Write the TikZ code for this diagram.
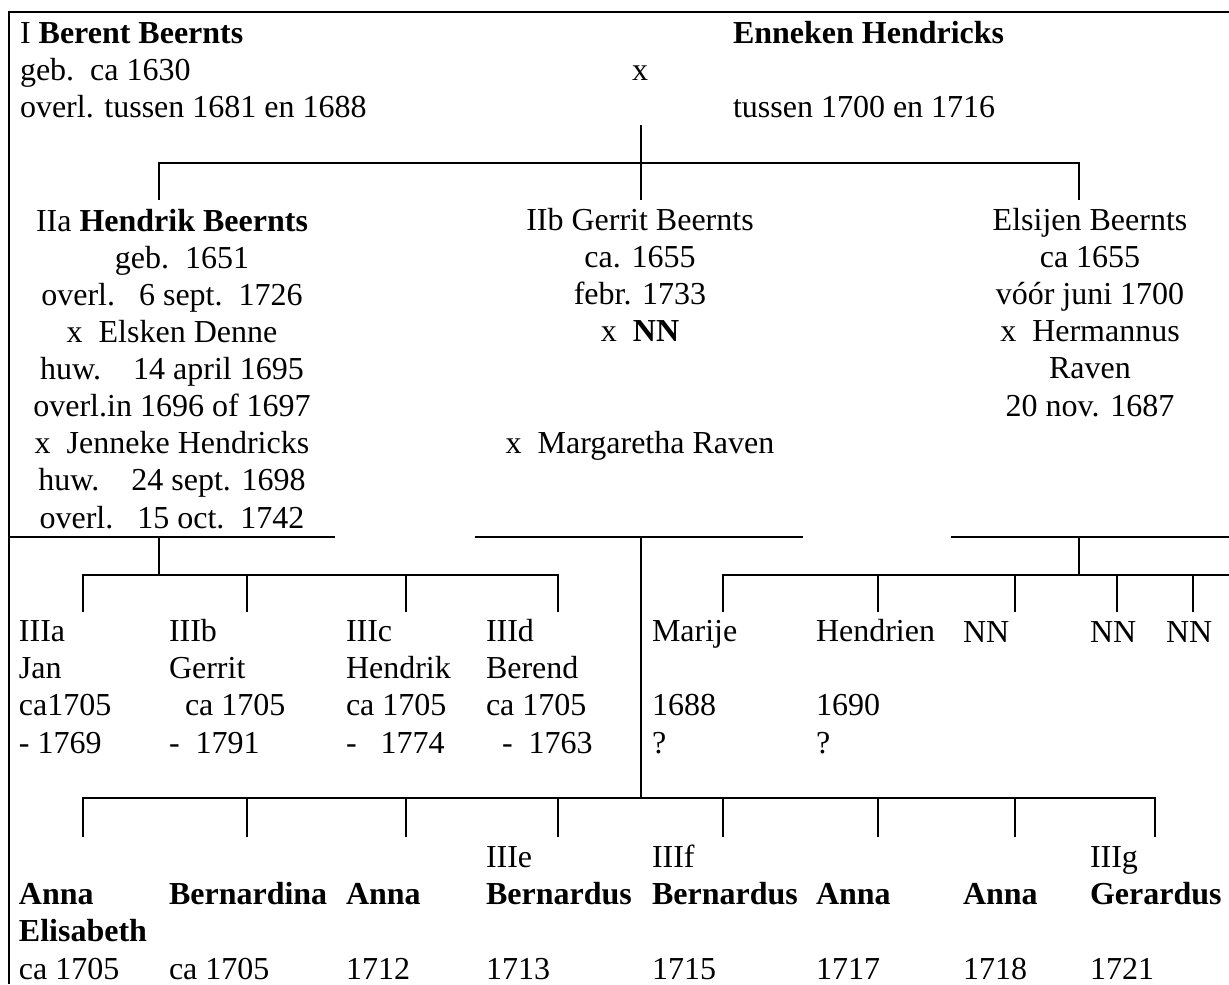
\documentclass[tikz,border=0pt]{standalone}
\usepackage{fontspec}
\setmainfont{Liberation Serif}
\usepackage{tikz}
\tikzstyle{person}=[inner sep=0pt, anchor=base west, align=left]
\tikzstyle{couple}=[inner sep=0pt, anchor=base, align=center]
\newcommand{\person}{\node[person]}
\newcommand{\couple}{\node[couple]}
\newcommand{\blank}{\\[13.9pt]}

\begin{document}
\begin{tikzpicture}[x=0.375pt, y=-0.375pt, line width=0.75pt
    ,font=\fontsize{12pt}{13.9pt}\selectfont
]
\useasboundingbox (0,0) rectangle (1229,984);
\draw (1229,12) -- (9,12) -- (9,984);
\draw (9,537) -- (335,537);
\draw (475,537) -- (803,537);
\draw (951,537) -- (1229,537);

\person (berent) at (19,118) {I \textbf{Berent Beernts}\\geb.\ \ ca 1630\\overl. tussen 1681 en 1688};
\couple (wedx) at (640,81) {x};
\person (enneken) at (732,118) {\textbf{Enneken Hendricks}\blank tussen 1700 en 1716};

\couple (hendrik) at (172,528) {IIa \textbf{Hendrik Beernts}\\\hspace*{7.5pt}geb.\ \ 1651\\overl.\ \ \ 6 sept.\ \ 1726\\x\ \ Elsken Denne\\huw.\ \ \ \ 14 april 1695\\overl.in 1696 of 1697\\x\ \ Jenneke Hendricks\\huw.\ \ \ \ 24 sept. 1698\\overl.\ \ \ 15 oct.\ \ 1742};
\couple (gerrit) at (640,453) {IIb Gerrit Beernts\\ca. 1655\\febr. 1733\\x\ \ \textbf{NN}\\[27.8pt]x\ \ Margaretha Raven};
\couple (elsijen) at (1090,416) {Elsijen Beernts\\ca 1655\\vóór juni 1700\\x\ \ Hermannus\\Raven\\20 nov. 1687};

\person (jan) at (18,753) {IIIa\\Jan\\ca1705\\- 1769};
\person (gerrit3) at (168,753) {IIIb\\Gerrit\\\hspace*{6pt}ca 1705\\-\ \ 1791};
\person (hendrik3) at (345,753) {IIIc\\Hendrik\\ca 1705\\-\ \ \ 1774};
\person (berend) at (485,753) {IIId\\Berend\\ca 1705\\\hspace*{6pt}-\ \ 1763};
\person (marije) at (651,753) {Marije\blank 1688\\?};
\person (hendrien) at (815,753) {Hendrien\blank 1690\\?};
\person (nn1) at (962,642) {NN};
\person (nn2) at (1089,642) {NN};
\person (nn3) at (1165,642) {NN};

\person (annaelis) at (18,979) {\textbf{Anna}\\\textbf{Elisabeth}\\ca 1705};
\person (bernardina) at (168,979) {\textbf{Bernardina}\blank ca 1705};
\person (anna1) at (345,979) {\textbf{Anna}\blank 1712};
\person (bernardus1) at (485,979) {IIIe\\\textbf{Bernardus}\blank 1713};
\person (bernardus2) at (651,979) {IIIf\\\textbf{Bernardus}\blank 1715};
\person (anna2) at (815,979) {\textbf{Anna}\blank 1717};
\person (anna3) at (962,979) {\textbf{Anna}\blank 1718};
\person (gerardus) at (1089,979) {IIIg\\\textbf{Gerardus}\blank 1721};

\coordinate (wed) at (641,125);
\coordinate (IIa) at (159,200);
\coordinate (IIb) at (641,200);
\coordinate (IIc) at (1079,200);
\draw (wed) -- (IIb);
\draw (IIa) -- ++(0,-37) -| (IIc);

\coordinate (IIa-out) at (159,537);
\coordinate (IIIa) at (83,612);
\coordinate (IIIb) at (247,612);
\coordinate (IIIc) at (406,612);
\coordinate (IIId) at (558,612);
\draw (IIa-out) -- ++(0,38);
\draw (IIIa) -- ++(0,-37) -| (IIId);
\draw (IIIb) -- ++(0,-37);
\draw (IIIc) -- ++(0,-37);

\coordinate (IIc-out) at (1079,537);
\coordinate (c1) at (723,612);
\coordinate (c2) at (878,612);
\coordinate (c3) at (1015,612);
\coordinate (c4) at (1117,612);
\coordinate (c5) at (1193,612);
\coordinate (c-end) at (1229,575);
\draw (IIc-out) -- ++(0,38);
\draw (c1) -- ++(0,-37) -- (c-end);
\draw (c2) -- ++(0,-37);
\draw (c3) -- ++(0,-37);
\draw (c4) -- ++(0,-37);
\draw (c5) -- ++(0,-37);

\coordinate (IIb-out) at (641,537);
\coordinate (IIb-bar) at (641,798);
\coordinate (g1) at (83,837);
\coordinate (g2) at (247,837);
\coordinate (g3) at (406,837);
\coordinate (g4) at (558,837);
\coordinate (g5) at (723,837);
\coordinate (g6) at (878,837);
\coordinate (g7) at (1015,837);
\coordinate (g8) at (1155,837);
\draw (IIb-out) -- (IIb-bar);
\draw (g1) -- ++(0,-39) -| (g8);
\draw (g2) -- ++(0,-39);
\draw (g3) -- ++(0,-39);
\draw (g4) -- ++(0,-39);
\draw (g5) -- ++(0,-39);
\draw (g6) -- ++(0,-39);
\draw (g7) -- ++(0,-39);
\end{tikzpicture}
\end{document}
